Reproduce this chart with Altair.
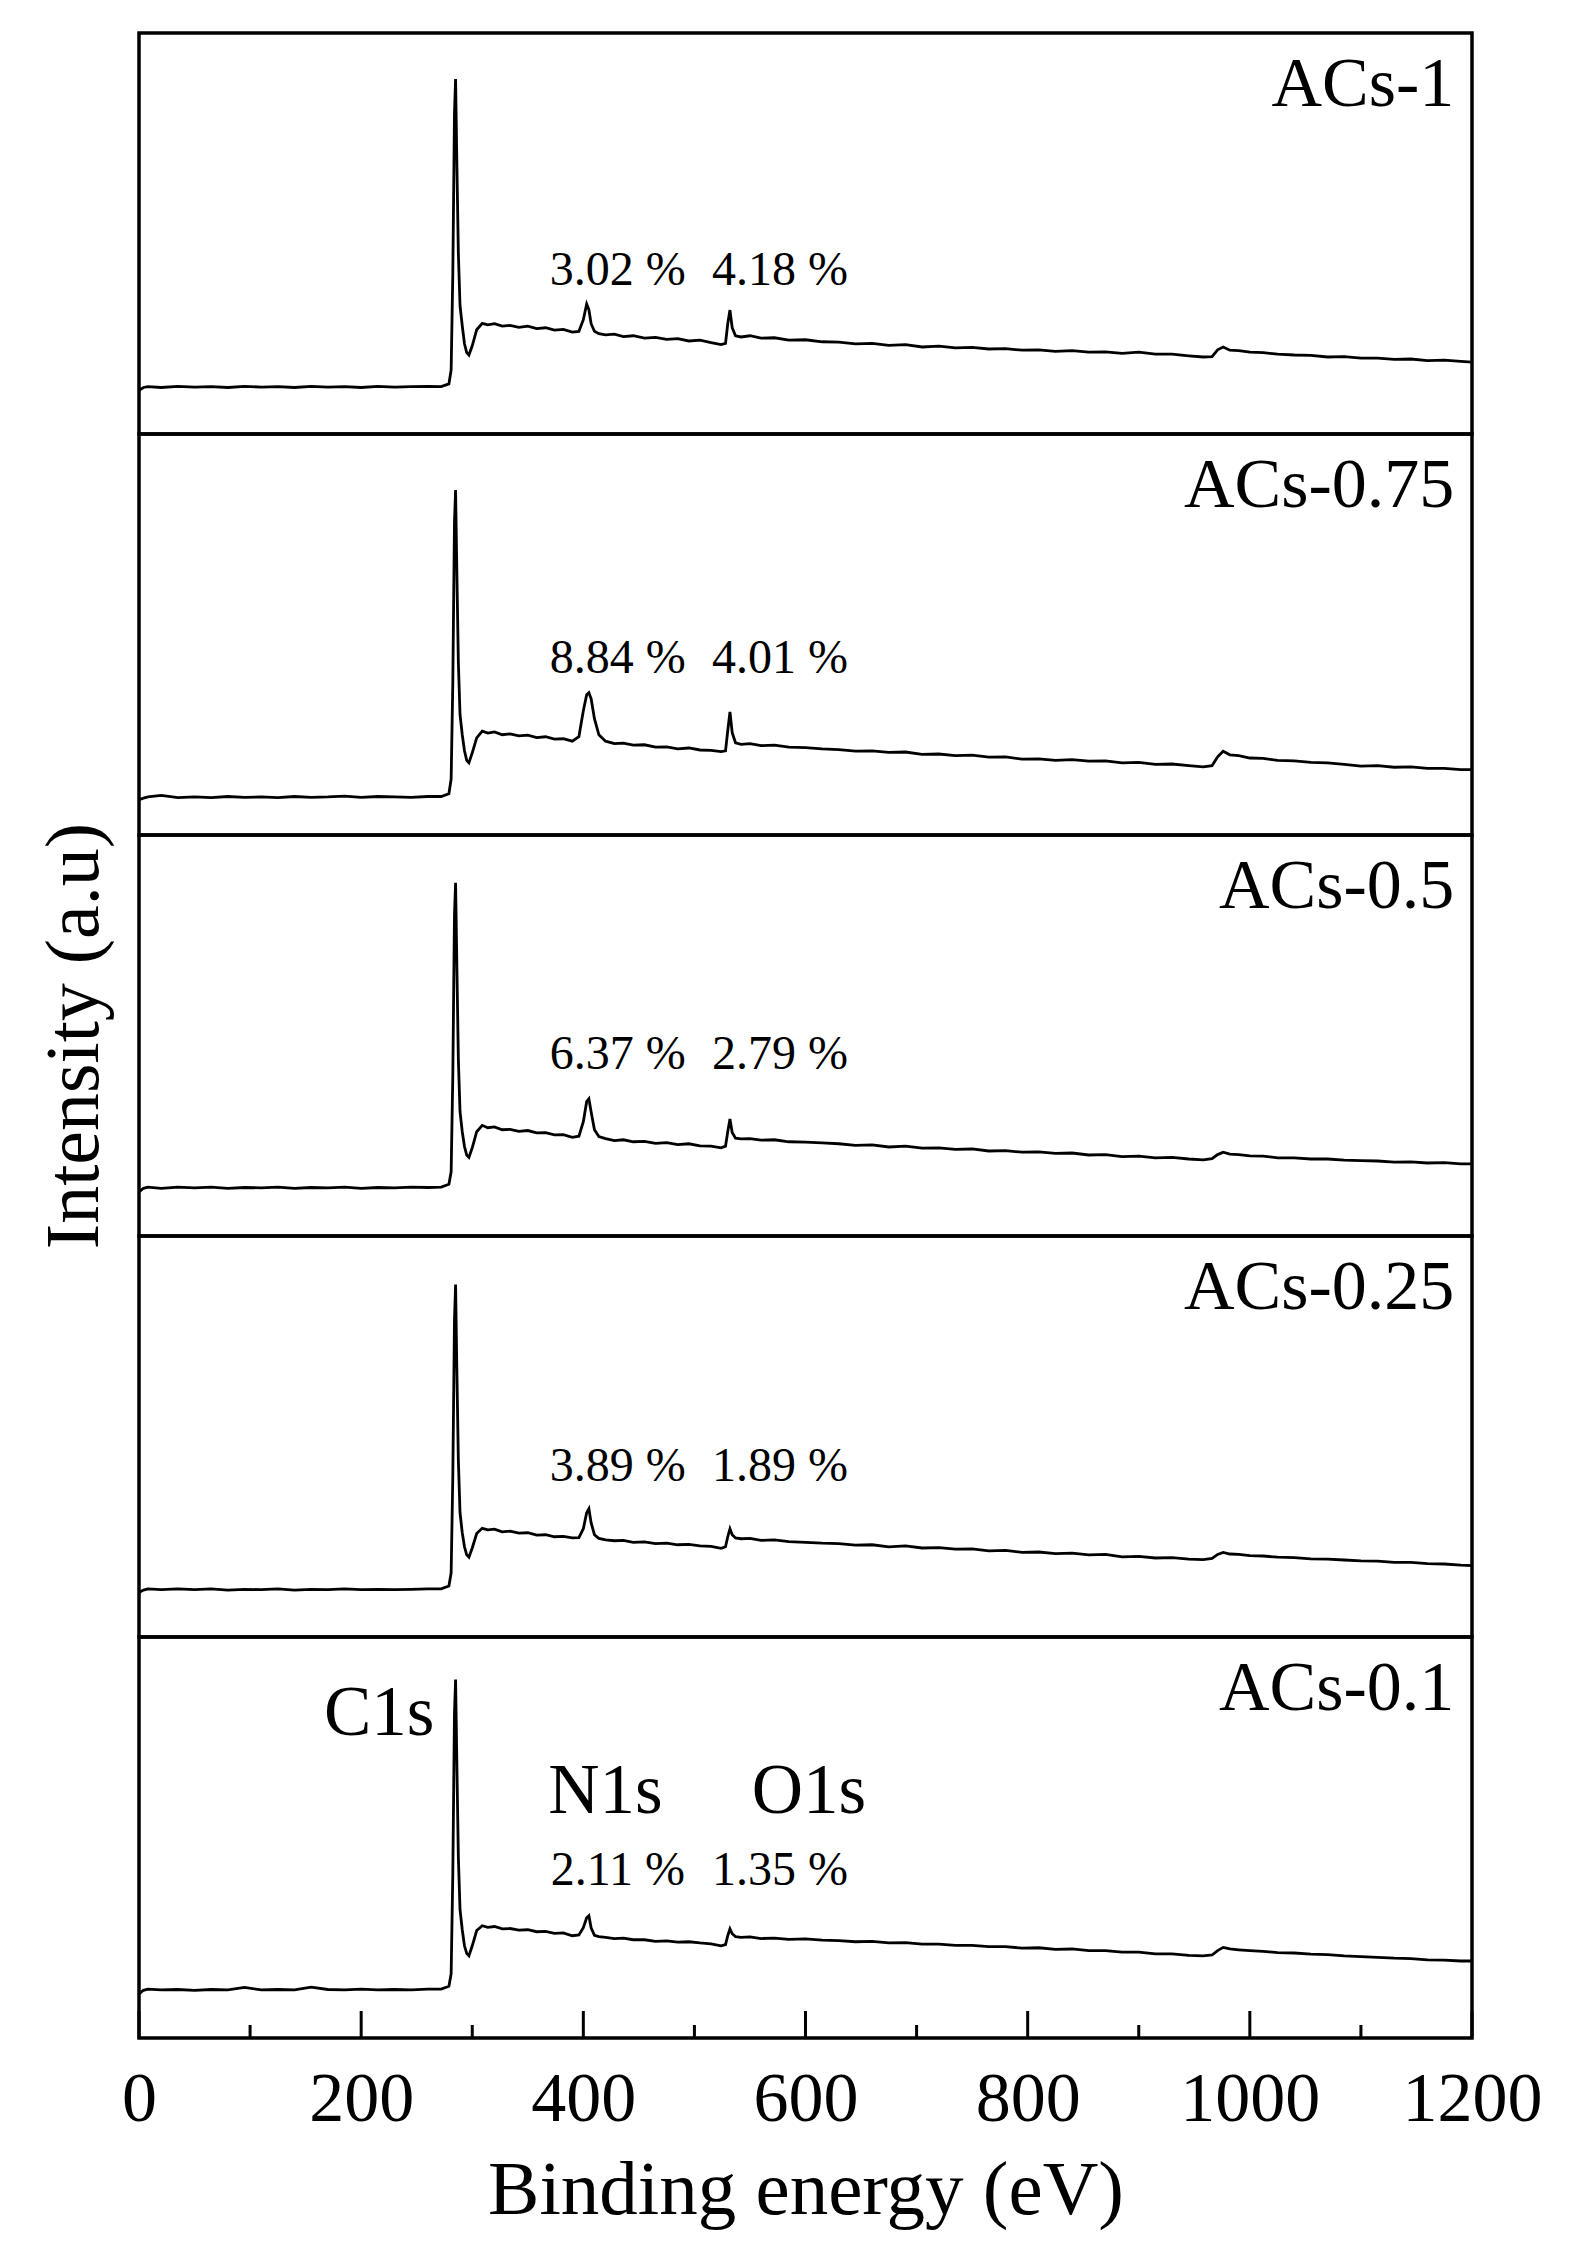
import altair as alt
import pandas as pd

# ---------------- data ----------------
energy = [
    0, 4, 8, 20, 35, 50, 65, 80, 95, 110,
    125, 140, 155, 170, 185, 200, 215, 230, 245, 260,
    272, 279, 281, 282.5, 284, 285, 286, 287.5, 289, 291,
    293, 295, 297, 300, 304, 309, 314, 320, 327, 334,
    342, 350, 358, 366, 374, 382, 390, 396, 400, 403,
    405, 407, 410, 414, 420, 428, 436, 445, 455, 465,
    475, 485, 495, 505, 515, 524, 528, 530, 532, 534,
    537, 542, 550, 560, 572, 585, 600, 615, 630, 645,
    660, 675, 690, 705, 720, 735, 750, 765, 780, 795,
    810, 825, 840, 855, 870, 885, 900, 915, 930, 945,
    958, 966, 971, 976, 982, 990, 1000, 1012, 1025, 1040,
    1055, 1070, 1085, 1100, 1115, 1130, 1145, 1160, 1175, 1190,
    1200,
]

acs_1 = [
    10.9, 11.6, 11.8, 11.6, 11.9, 11.7, 11.8, 11.6, 11.9, 11.7,
    11.8, 11.6, 11.9, 11.7, 11.8, 11.6, 11.9, 11.7, 11.8, 11.9,
    11.8, 12.5, 16.0, 40.0, 80.0, 88.5, 70.0, 45.0, 32.0, 27.0,
    22.5, 20.3, 19.7, 22.0, 26.0, 27.6, 27.2, 27.5, 26.9, 27.1,
    26.6, 26.9, 26.3, 26.5, 25.9, 26.1, 25.4, 25.6, 28.5, 32.4,
    31.0, 27.5, 25.6, 25.0, 24.7, 24.9, 24.3, 24.5, 23.9, 24.1,
    23.6, 23.8, 23.2, 23.4, 22.8, 22.3, 22.6, 27.5, 30.9, 26.5,
    24.5, 24.2, 24.5, 23.9, 24.0, 23.4, 23.5, 23.0, 22.9, 22.5,
    22.6, 22.1, 22.3, 21.7, 21.9, 21.5, 21.6, 21.2, 21.3, 20.9,
    21.0, 20.6, 20.8, 20.4, 20.5, 20.1, 20.4, 19.9, 19.9, 19.5,
    19.2, 19.3, 21.0, 21.7, 20.9, 20.8, 20.4, 20.3, 19.9, 19.7,
    19.6, 19.2, 19.3, 18.9, 18.9, 18.6, 18.7, 18.3, 18.4, 18.1,
    17.9,
]

acs_075 = [
    8.8, 9.2, 9.5, 9.9, 9.3, 9.5, 9.3, 9.6, 9.4, 9.5,
    9.3, 9.6, 9.4, 9.5, 9.7, 9.4, 9.6, 9.5, 9.4, 9.6,
    9.6, 10.3, 14.0, 38.0, 78.0, 86.0, 68.0, 43.0, 30.0, 25.0,
    21.0, 18.6, 18.0, 20.5, 24.2, 25.9, 25.4, 25.7, 25.0, 25.2,
    24.7, 24.9, 24.3, 24.5, 23.9, 24.0, 23.4, 24.5, 31.0, 35.0,
    35.5, 34.0, 29.0, 25.0, 23.4, 22.8, 22.9, 22.4, 22.5, 21.9,
    22.0, 21.5, 21.7, 21.2, 21.1, 20.8, 21.0, 26.0, 30.7, 25.5,
    23.0, 22.6, 22.8, 22.3, 22.4, 21.9, 21.8, 21.5, 21.3, 20.9,
    21.0, 20.6, 20.7, 20.1, 20.2, 19.8, 19.9, 19.4, 19.5, 18.9,
    19.0, 18.6, 18.8, 18.4, 18.5, 18.0, 18.1, 17.6, 17.7, 17.3,
    17.0, 17.3, 19.5, 20.9, 20.0, 19.8, 19.2, 19.1, 18.6, 18.5,
    18.1, 18.0, 17.6, 17.2, 17.3, 16.9, 17.0, 16.6, 16.6, 16.3,
    16.3,
]

acs_05 = [
    11.0, 11.9, 12.2, 11.9, 12.2, 12.0, 12.2, 11.9, 12.1, 12.0,
    12.2, 11.9, 12.1, 12.0, 12.2, 11.9, 12.1, 12.0, 12.2, 12.1,
    12.2, 12.9, 16.0, 40.0, 80.0, 88.1, 70.0, 44.0, 31.0, 26.0,
    22.3, 20.2, 19.6, 22.0, 26.0, 27.6, 27.0, 27.2, 26.5, 26.6,
    26.1, 26.3, 25.7, 25.8, 25.2, 25.3, 24.6, 24.9, 28.5, 33.5,
    34.2, 31.0, 26.5, 24.8, 24.3, 23.8, 24.0, 23.5, 23.6, 23.1,
    23.3, 22.8, 23.0, 22.5, 22.4, 22.0, 22.4, 26.0, 29.2, 25.8,
    24.4, 24.2, 24.3, 23.9, 24.0, 23.5, 23.4, 23.2, 23.0, 22.6,
    22.7, 22.2, 22.4, 21.9, 22.0, 21.6, 21.7, 21.2, 21.3, 20.9,
    21.0, 20.6, 20.7, 20.2, 20.3, 19.8, 19.9, 19.5, 19.6, 19.2,
    19.0, 19.3, 20.3, 20.9, 20.4, 20.3, 20.0, 19.9, 19.5, 19.5,
    19.2, 19.2, 18.9, 18.8, 18.7, 18.4, 18.5, 18.2, 18.3, 18.0,
    18.0,
]

acs_025 = [
    11.1, 11.7, 12.0, 11.8, 12.0, 11.8, 12.0, 11.7, 11.9, 11.8,
    12.0, 11.7, 11.9, 11.8, 12.0, 11.8, 11.9, 11.8, 11.9, 12.0,
    12.0, 12.7, 16.0, 40.0, 79.0, 87.9, 69.0, 44.0, 31.0, 26.0,
    22.5, 20.5, 19.9, 22.2, 25.8, 27.1, 26.7, 26.9, 26.2, 26.4,
    25.9, 26.0, 25.4, 25.5, 25.0, 25.1, 24.7, 24.8, 27.0, 31.0,
    32.0, 28.5, 25.5, 24.6, 24.2, 24.0, 24.1, 23.6, 23.7, 23.3,
    23.4, 23.0, 23.1, 22.7, 22.6, 22.1, 22.5, 25.0, 27.0, 25.5,
    24.7, 24.5, 24.6, 24.1, 24.2, 23.8, 23.6, 23.4, 23.3, 22.9,
    23.0, 22.5, 22.7, 22.2, 22.3, 21.9, 22.0, 21.5, 21.6, 21.1,
    21.2, 20.8, 20.9, 20.5, 20.6, 20.0, 20.1, 19.7, 19.8, 19.4,
    19.3, 19.6, 20.6, 21.1, 20.7, 20.6, 20.3, 20.2, 19.9, 19.8,
    19.5, 19.4, 19.2, 19.0, 18.9, 18.6, 18.6, 18.3, 18.2, 17.9,
    17.8,
]

acs_01 = [
    11.0, 11.9, 12.2, 12.0, 12.1, 11.9, 12.1, 12.0, 12.6, 12.0,
    12.1, 12.0, 12.7, 12.1, 12.0, 12.2, 12.0, 12.1, 12.0, 12.2,
    12.2, 12.9, 16.0, 41.0, 81.0, 89.4, 71.0, 45.0, 32.0, 27.0,
    23.0, 21.1, 20.5, 23.0, 26.8, 28.0, 27.6, 27.8, 27.2, 27.3,
    26.9, 27.0, 26.5, 26.6, 26.1, 26.2, 25.5, 25.7, 27.5, 30.0,
    30.5, 27.5, 25.6, 25.3, 25.1, 24.8, 24.9, 24.5, 24.5, 24.1,
    24.2, 23.9, 24.0, 23.7, 23.5, 23.0, 23.3, 25.5, 27.2, 26.0,
    25.3, 25.1, 25.2, 24.8, 24.9, 24.6, 24.7, 24.4, 24.3, 24.0,
    24.1, 23.7, 23.8, 23.4, 23.4, 23.1, 23.1, 22.8, 22.8, 22.4,
    22.5, 22.1, 22.2, 21.8, 21.8, 21.4, 21.4, 21.0, 21.0, 20.6,
    20.5, 20.7, 21.8, 22.6, 22.2, 22.0, 21.8, 21.6, 21.3, 21.2,
    20.9, 20.8, 20.5, 20.3, 20.1, 19.9, 19.8, 19.5, 19.4, 19.2,
    19.2,
]

spectra = [acs_1, acs_075, acs_05, acs_025, acs_01]
for s in spectra:
    assert len(s) == len(energy), len(s)

panel_names = ["ACs-1", "ACs-0.75", "ACs-0.5", "ACs-0.25", "ACs-0.1"]
n1s_pct = ["3.02 %", "8.84 %", "6.37 %", "3.89 %", "2.11 %"]
o1s_pct = ["4.18 %", "4.01 %", "2.79 %", "1.89 %", "1.35 %"]
pct_y = [37.2, 40.4, 41.6, 38.9, 38.2]

peak_names = ["C1s", "N1s", "O1s"]
peak_x = [266, 420, 603]
peak_y = [75.6, 56.1, 56.1]
peak_align = ["right", "center", "center"]

name_x = 1184
name_y = 81.8
pct_x = [431, 577]

major_ticks = [0, 200, 400, 600, 800, 1000, 1200]
minor_ticks = [100, 300, 500, 700, 900, 1100]

# ---------------- chart ----------------
FONT = "Liberation Serif"
W, H = 1333, 401
xs = alt.Scale(domain=[0, 1200], nice=False, zero=False)
ys = alt.Scale(domain=[0, 100], nice=False, zero=False)


def make_panel(i):
    last = i == len(spectra) - 1
    mid = i == 2
    if last:
        xaxis = alt.Axis(
            values=major_ticks, format="d", title="Binding energy (eV)",
            ticks=False, tickSize=0, domain=False, grid=False,
            labelFont=FONT, labelFontSize=70, labelColor="black",
            labelPadding=27, labelFlush=False, labelOverlap=False,
            titleFont=FONT, titleFontSize=77, titleFontWeight="normal",
            titleColor="black", titlePadding=18,
        )
    else:
        xaxis = None
    if mid:
        yaxis = alt.Axis(
            title="Intensity (a.u)", labels=False, ticks=False, tickSize=0,
            domain=False, grid=False, titleFont=FONT, titleFontSize=76,
            titleFontWeight="normal", titleColor="black", titlePadding=26,
        )
    else:
        yaxis = None

    X = lambda: alt.X("E:Q", scale=xs, axis=xaxis)
    Y = lambda: alt.Y("I:Q", scale=ys, axis=yaxis)

    df = pd.DataFrame({"E": energy, "I": spectra[i]})
    line = alt.Chart(df).mark_line(color="black", strokeWidth=2.8).encode(x=X(), y=Y())

    name_df = pd.DataFrame({"E": [name_x], "I": [name_y], "t": [panel_names[i]]})
    name = alt.Chart(name_df).mark_text(
        font=FONT, fontSize=70, align="right", baseline="alphabetic", color="black"
    ).encode(x=X(), y=Y(), text="t:N")

    pct_df = pd.DataFrame({"E": pct_x, "I": [pct_y[i]] * 2, "t": [n1s_pct[i], o1s_pct[i]]})
    pct = alt.Chart(pct_df).mark_text(
        font=FONT, fontSize=48, align="center", baseline="alphabetic", color="black"
    ).encode(x=X(), y=Y(), text="t:N")

    layers = [line, name, pct]

    if last:
        for nm, px, py, al in zip(peak_names, peak_x, peak_y, peak_align):
            pdf = pd.DataFrame({"E": [px], "I": [py], "t": [nm]})
            layers.append(
                alt.Chart(pdf).mark_text(
                    font=FONT, fontSize=71, align=al, baseline="alphabetic", color="black"
                ).encode(x=X(), y=Y(), text="t:N")
            )
        maj = alt.Chart(pd.DataFrame({"E": major_ticks})).mark_rule(
            color="black", strokeWidth=3
        ).encode(x=X(), y=alt.value(H), y2=alt.value(H - 27))
        mnr = alt.Chart(pd.DataFrame({"E": minor_ticks})).mark_rule(
            color="black", strokeWidth=3
        ).encode(x=X(), y=alt.value(H), y2=alt.value(H - 13))
        layers += [maj, mnr]

    return alt.layer(*layers).properties(width=W, height=H)


chart = (
    alt.vconcat(*[make_panel(i) for i in range(len(spectra))], spacing=0, bounds="flush")
    .properties(padding={"left": 26, "top": 23, "right": 10, "bottom": 10}, background="white")
    .configure_view(stroke="black", strokeWidth=3.5)
    .configure_concat(spacing=0)
)

chart.save("out.html", embed_options={"renderer": "svg", "actions": False})
